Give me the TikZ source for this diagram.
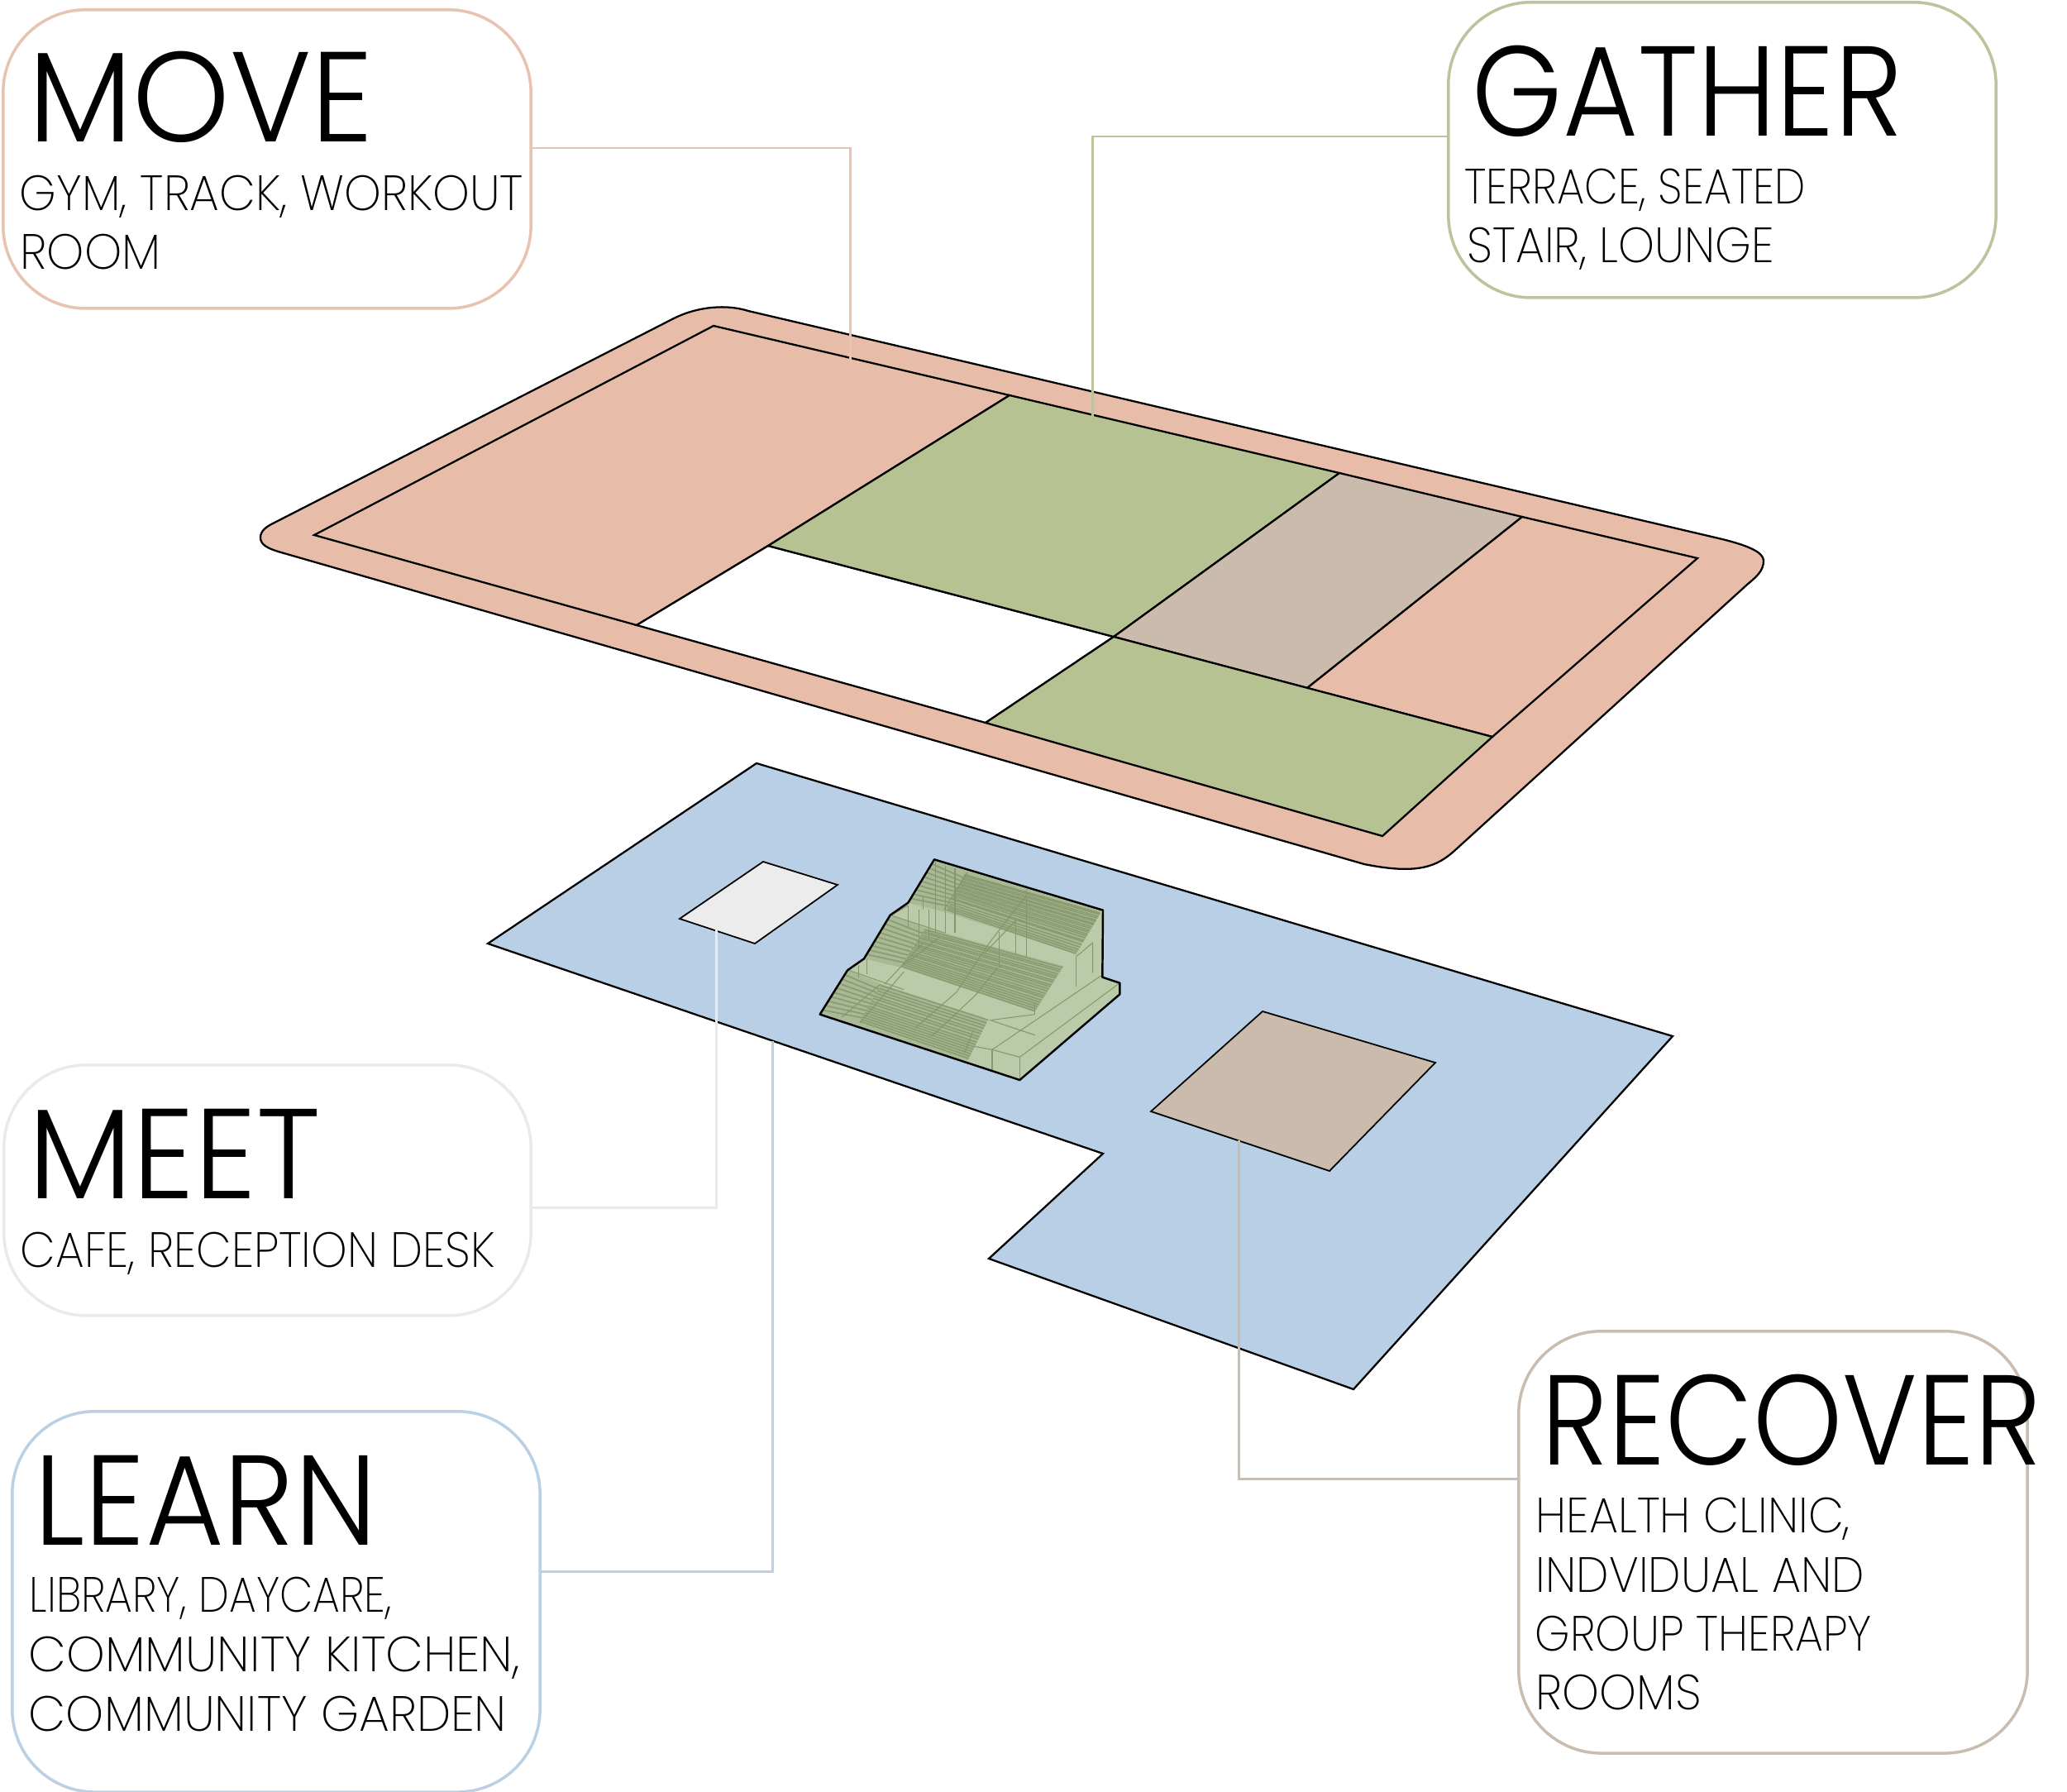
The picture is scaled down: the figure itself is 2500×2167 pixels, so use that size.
\documentclass[tikz,border=0pt]{standalone}
\usepackage{graphicx}
\usepackage{fontspec}
\usetikzlibrary{calc}
\newfontfamily\ttlfont{Poppins Light}
\newfontfamily\subfont{Poppins ExtraLight}
\newdimen\pxu \pxu=0.28453pt
\newcommand\fitw[2]{\resizebox{#1\pxu}{\height}{#2}}
\definecolor{cpink}{HTML}{E7BDA9}
\definecolor{cgreen}{HTML}{B6C292}
\definecolor{ctaupe}{HTML}{CBBBAC}
\definecolor{cblue}{HTML}{B9CFE6}
\definecolor{cgrey}{HTML}{ECECEC}
\definecolor{lpink}{HTML}{E8C3B1}
\definecolor{lgreen}{HTML}{BAC59D}
\definecolor{lgrey}{HTML}{EAEAEA}
\definecolor{lblue}{HTML}{BCD0E4}
\definecolor{ltaupe}{HTML}{C9BDB0}
\definecolor{stairbase}{HTML}{BBCAA8}
\definecolor{stairdark}{HTML}{84956A}
\tikzset{
  x=0.01cm,y=-0.01cm,
  plan/.style={draw=black,line width=0.65pt,line join=miter},
  boxn/.style={draw,line width=1pt,rounded corners=1cm,fill=white,inner sep=0pt,anchor=north west},
  conn/.style={line width=0.85pt},
  ttl/.style={font=\ttlfont\fontsize{44}{44}\selectfont,anchor=base west,inner sep=0pt,text=black},
  subt/.style={font=\subfont\fontsize{17}{17}\selectfont,anchor=base west,inner sep=0pt,text=black},
  tread/.style={draw=stairdark,line width=0.5pt,opacity=.8},
  fine/.style={draw=stairdark,line width=0.3pt,opacity=.95},
}
\begin{document}
\begin{tikzpicture}
\useasboundingbox (0,0) rectangle (2500,2167);
\fill[white] (0,0) rectangle (2500,2167);

% upper slab
\draw[plan,fill=cpink] (330,633) -- (815,385) .. controls (845,370) and (880,368) .. (905,376)
  -- (2083,652) .. controls (2115,660) and (2133,668) .. (2133,678)
  .. controls (2133,690) and (2125,697) .. (2113,707)
  -- (1760,1028) .. controls (1738,1048) and (1715,1058) .. (1650,1045)
  -- (340,668) .. controls (322,663) and (315,658) .. (315,650) .. controls (315,642) and (322,637) .. (330,633) -- cycle;
\draw[plan,fill=cpink] (863,394) -- (1221,478) -- (929,660) -- (770,756) -- (380,647) -- cycle;
\draw[plan,fill=white] (929,660) -- (1347,770) -- (1192,874) -- (770,756) -- cycle;
\draw[plan,fill=cgreen] (1221,478) -- (1620,572) -- (1347,770) -- (929,660) -- cycle;
\draw[plan,fill=ctaupe] (1620,572) -- (1841,625) -- (1581,832) -- (1347,770) -- cycle;
\draw[plan,fill=cpink] (1841,625) -- (2053,675) -- (1805,891) -- (1581,832) -- cycle;
\draw[plan,fill=cgreen] (1347,770) -- (1805,891) -- (1672,1011) -- (1192,874) -- cycle;

% lower slab
\draw[plan,fill=cblue] (915,923) -- (2023,1253) -- (1637,1680) -- (1196,1522) -- (1334,1395) -- (590,1141) -- cycle;
\draw[plan,line width=0.5pt,fill=cgrey] (923,1042) -- (1013,1070) -- (913,1141) -- (822,1111) -- cycle;
\draw[plan,line width=0.5pt,fill=ctaupe] (1527,1223) -- (1736,1285) -- (1608,1416) -- (1392,1344) -- cycle;

% stair block
\begin{scope}[shift={(950,1000)},scale=0.33333]
  \fill[stairbase] (125,680) -- (225,520) -- (285,478) -- (380,320) -- (445,275) -- (540,118) -- (1152,302)
    -- (1150,545) -- (1213,566) -- (1213,607) -- (850,918) -- cycle;
  % flights
  \fill[stairdark,opacity=.3] (540,118) -- (660,160) -- (1145,305) -- (1055,460) -- (585,310) -- (445,275) -- cycle;
  \fill[stairdark,opacity=.3] (380,320) -- (505,365) -- (1010,505) -- (905,670) -- (420,510) -- (285,478) -- cycle;
  \fill[stairdark,opacity=.3] (225,520) -- (350,570) -- (735,700) -- (660,850) -- (125,680) -- cycle;
  % top flight treads
  \coordinate (a1) at (650,170); \coordinate (a2) at (1145,310);
  \coordinate (a3) at (585,300); \coordinate (a4) at (1055,460);
  \foreach \t in {.02,.05,.1,.14,.19,.22,.27,.3,.35,.39,.44,.48,.53,.57,.62,.68,.71,.78,.84,.9,.95,1}
    \draw[tread] ($(a1)!\t!(a3)$) -- ($(a2)!\t!(a4)$);
  % middle flight treads
  \coordinate (b1) at (505,372); \coordinate (b2) at (1005,510);
  \coordinate (b3) at (420,505); \coordinate (b4) at (905,668);
  \foreach \t in {0,.05,.09,.15,.2,.24,.3,.34,.4,.44,.49,.54,.6,.65,.69,.75,.8,.85,.9,.95,1}
    \draw[tread] ($(b1)!\t!(b3)$) -- ($(b2)!\t!(b4)$);
  % lower flight treads
  \coordinate (c1) at (345,575); \coordinate (c2) at (735,700);
  \coordinate (c3) at (270,705); \coordinate (c4) at (665,840);
  \foreach \t in {0,.08,.15,.22,.3,.36,.44,.5,.58,.64,.7,.76,.82,.88,.94,1}
    \draw[tread] ($(c1)!\t!(c3)$) -- ($(c2)!\t!(c4)$);
  % short treads at the left edge
  \foreach \t in {.1,.2,.3,.4,.5,.6,.7,.8,.9}{
    \draw[tread] ($(540,118)!\t!(445,275)$) -- ($(650,170)!\t!(585,300)$);
    \draw[tread] ($(380,320)!\t!(285,478)$) -- ($(505,372)!\t!(420,505)$);
    \draw[tread] ($(225,520)!\t!(125,680)$) -- ($(345,575)!\t!(270,705)$);
  }
  % fine frame lines
  \foreach \xa/\ya/\xb/\yb in {
    615/150/615/385, 580/140/580/385, 545/125/545/385, 875/225/875/470, 835/335/835/460, 775/380/775/510,
    520/300/520/405, 485/300/485/440, 445/285/445/365, 500/255/500/300, 295/480/295/535, 265/500/265/545,
    660/165/575/300, 880/240/740/420, 740/420/620/600, 620/600/470/730, 835/340/720/460, 770/510/690/610,
    690/610/530/760, 445/285/385/320, 380/320/580/385, 230/520/430/590, 500/420/360/570, 560/400/430/500,
    345/570/205/690, 430/525/270/710, 905/680/905/640, 650/820/680/740
  }
    \draw[fine] (\xa,\ya) -- (\xb,\yb);
  % light parts on the right
  \draw[fine] (850,835) -- (850,918);
  \draw[fine] (850,835) -- (1213,566);
  \draw[fine] (750,808) -- (750,885);
  \draw[fine] (750,808) -- (850,835);
  \draw[fine] (750,808) -- (1145,540);
  \draw[fine] (680,795) -- (750,808);
  \draw[fine] (1055,470) -- (1055,578);
  \draw[fine] (1055,470) -- (1115,420) -- (1115,530);
  \draw[fine] (905,680) -- (750,700);
  \draw[fine] (740,700) -- (905,755);
  % outline
  \draw[black,line width=0.7pt,line join=round] (125,680) -- (225,520) -- (285,478) -- (380,320) -- (445,275) -- (540,118) -- (1152,302)
    -- (1150,545) -- (1213,566) -- (1213,607) -- (850,918) -- cycle;
\end{scope}

% boxes
\node[boxn,draw=lpink,minimum width=638*\pxu,minimum height=361*\pxu] (move) at (2,10) {};
\node[boxn,draw=lgreen,minimum width=662*\pxu,minimum height=357*\pxu] (gather) at (1750,1) {};
\node[boxn,draw=lgrey,minimum width=637*\pxu,minimum height=303*\pxu] (meet) at (3,1286) {};
\node[boxn,draw=lblue,minimum width=638*\pxu,minimum height=460*\pxu] (learn) at (13,1705) {};
\node[boxn,draw=ltaupe,minimum width=615*\pxu,minimum height=510*\pxu] (recover) at (1835,1608) {};

% connectors
\coordinate (moveY) at (0,179);    \coordinate (moveEnd) at (1028,437);
\coordinate (gatherY) at (0,165);  \coordinate (gatherEnd) at (1321,505);
\coordinate (meetY) at (0,1460);   \coordinate (meetEnd) at (866,1122);
\coordinate (learnY) at (0,1900);  \coordinate (learnEnd) at (934,1259);
\coordinate (recoverY) at (0,1788);\coordinate (recoverEnd) at (1498,1379);
\draw[conn,lpink] (move.east |- moveY) -| (moveEnd);
\draw[conn,lgreen] (gather.west |- gatherY) -| (gatherEnd);
\draw[conn,lgrey] (meet.east |- meetY) -| (meetEnd);
\draw[conn,lblue] (learn.east |- learnY) -| (learnEnd);
\draw[conn,ltaupe] (recover.west |- recoverY) -| (recoverEnd);

% texts
\node[ttl] (t1) at (34,172) {\fitw{417}{MOVE}};
\node[subt] (s1a) at (23,255) {\fitw{609}{GYM, TRACK, WORKOUT}};
\node[subt] (s1b) at (24,326) {\fitw{170}{ROOM}};
\node[ttl] (t2) at (1780,165) {\fitw{520}{GATHER}};
\node[subt] (s2a) at (1771,247) {\fitw{412}{TERRACE, SEATED}};
\node[subt] (s2b) at (1774,318) {\fitw{371}{STAIR, LOUNGE}};
\node[ttl] (t3) at (34,1449) {\fitw{353}{MEET}};
\node[subt] (s3a) at (24,1532) {\fitw{574}{CAFE, RECEPTION DESK}};
\node[ttl] (t4) at (41,1868) {\fitw{414}{LEARN}};
\node[subt] (s4a) at (35,1949) {\fitw{438}{LIBRARY, DAYCARE,}};
\node[subt] (s4b) at (34,2021) {\fitw{594}{COMMUNITY KITCHEN,}};
\node[subt] (s4c) at (34,2093) {\fitw{578}{COMMUNITY GARDEN}};
\node[ttl] (t5) at (1864,1771) {\fitw{604}{RECOVER}};
\node[subt] (s5a) at (1857,1853) {\fitw{380}{HEALTH CLINIC,}};
\node[subt] (s5b) at (1857,1925) {\fitw{397}{INDVIDUAL AND}};
\node[subt] (s5c) at (1856,1996) {\fitw{407}{GROUP THERAPY}};
\node[subt] (s5d) at (1857,2067) {\fitw{200}{ROOMS}};
\end{tikzpicture}
\end{document}
